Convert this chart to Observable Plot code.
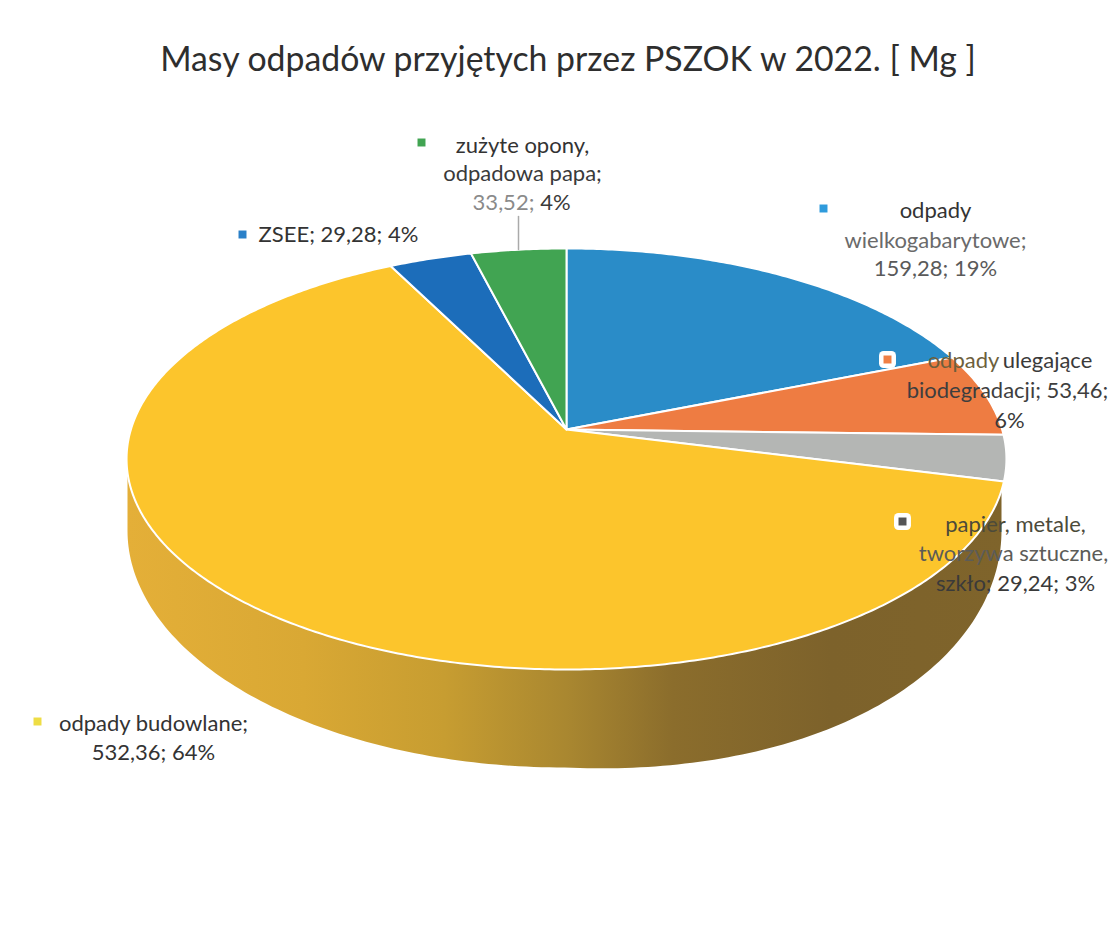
<!DOCTYPE html>
<html lang="pl">
<head>
<meta charset="utf-8">
<script src="https://cdn.jsdelivr.net/npm/d3@7"></script>
<script src="https://cdn.jsdelivr.net/npm/@observablehq/plot@0.6"></script>
<style>
  html, body { margin: 0; padding: 0; background: #fff; }
  h1 { margin: 0; height: 92px; text-align: center; width: 1136px;
       font: 400 33.8px Lato, sans-serif; line-height: 116px; color: #2e2e2e; white-space: nowrap; }
  svg { display: block; }
</style>
</head>
<body>
<h1 id="chartTitleEl"></h1>
<div id="chartEl"></div>
<script>
// ---- data ----
const chartTitle = "Masy odpadów przyjętych przez PSZOK w 2022. [ Mg ]";
const sliceNames = ["odpady wielkogabarytowe", "odpady ulegające biodegradacji",
  "papier, metale, tworzywa sztuczne, szkło", "odpady budowlane", "ZSEE",
  "zużyte opony, odpadowa papa"];
const sliceValues = [159.28, 53.46, 29.24, 532.36, 29.28, 33.52];

const labelText = [
  "zużyte opony,", "odpadowa papa;", "33,52;", "4%",
  "ZSEE; 29,28; 4%",
  "odpady", "wielkogabarytowe;", "159,28; 19%",
  "odpady", "ulegające", "biodegradacji; 53,46;", "6%",
  "papier, metale,", "tworzywa sztuczne,", "szkło; 29,24; 3%",
  "odpady budowlane;", "532,36; 64%"
];

// ---- layout and style ----
const W = 1109, H = 942, titleH = 92;
const sliceColors = ["#2a8cc8", "#ee7c42", "#b4b6b4", "#fcc52c", "#1c6dba", "#41a452"];
const labelX = [522, 522, 503, 555, 338, 935, 935, 935, 963, 1047, 1007, 1009, 1015, 1013, 1015, 153, 153];
const labelY = [145, 173, 202, 202, 234, 210, 240, 268, 360, 360, 390, 420, 524, 553, 583, 723, 752];
const labelFill = ["#333", "#3a3a3a", "#8a8a8a", "#3a3a3a", "#333", "#333", "#6a6a6a", "#5a5a5a",
  "#6d5f3c", "#3a3a3a", "#3e3e3e", "#3a3a3a", "#4c4a3a", "#5c5c58", "#3a3a3a", "#333", "#333"];
const markerIndex = [5, 4, 1, 2, 0, 3];
const markerColors = ["#41a452", "#2a80c8", "#2f9bdc", "#ef7f45", "#555555", "#eedd44"];
const markerX = [421, 242, 823, 887, 902, 37];
const markerY = [142, 234, 208, 359, 521, 721];
const markerHalo = [false, false, false, true, true, false];

// Top disc: perspective view of a unit circle, angle clockwise from 12 o'clock
const disc = {cx: 566, cy: 429, R: 435.6, S: 206.4, p: 0.14};
const rim = (a) => {
  const w = 1 + disc.p * Math.cos(a);
  return [disc.cx + disc.R * Math.sin(a) / w, disc.cy - disc.S * Math.cos(a) / w];
};
// Bottom rim of the cylinder wall (the right front bulges slightly in the picture)
const base = {cx: 564, cy: 530, rx: 437, ry: 237, bulge: 10};

const arcs = d3.pie().sort(null).startAngle(0).endAngle(2 * Math.PI)(sliceValues);
const slicePoints = arcs.flatMap((arc, i) => {
  const n = Math.max(2, Math.ceil((arc.endAngle - arc.startAngle) / 0.01));
  const pts = [{slice: sliceNames[i], x: disc.cx, y: disc.cy}];
  for (let k = 0; k <= n; ++k) {
    const [x, y] = rim(arc.startAngle + (arc.endAngle - arc.startAngle) * k / n);
    pts.push({slice: sliceNames[i], x, y});
  }
  pts.push({slice: sliceNames[i], x: disc.cx, y: disc.cy});
  return pts;
});

const wallPoints = d3.range(0, 181).map((deg) => {
  const t = deg * Math.PI / 180;
  const extra = deg < 90 ? base.bulge * Math.sin(2 * t) : 0;
  return {x: base.cx + base.rx * Math.cos(t), y: base.cy + base.ry * Math.sin(t) + extra};
});
wallPoints.push({x: base.cx - base.rx, y: 458}, {x: base.cx + base.rx, y: 458});

const wallStops = [[0, "#e4af38"], [0.2, "#d9a834"], [0.36, "#c79d31"], [0.5, "#a98730"],
  [0.62, "#8b6d2c"], [0.8, "#7d622b"], [1, "#7f642b"]];
const wallGradient = () => {
  const defs = d3.create("svg:defs");
  const g = defs.append("linearGradient").attr("id", "wallGrad")
    .attr("gradientUnits", "userSpaceOnUse")
    .attr("x1", 127).attr("x2", 1006).attr("y1", 0).attr("y2", 0);
  wallStops.forEach(([o, c]) => g.append("stop").attr("offset", o).attr("stop-color", c));
  return defs.node();
};

const labelRows = labelText.map((text, i) => ({text, x: labelX[i], y: labelY[i], fill: labelFill[i]}));
const markerRows = markerIndex.map((s, i) => ({
  slice: sliceNames[s], x: markerX[i], y: markerY[i], color: markerColors[i], halo: markerHalo[i]
}));
const leader = [{x: 518, y: 216}, {x: 518, y: 249}];

document.getElementById("chartTitleEl").textContent = chartTitle;

const chartNode = Plot.plot({
  width: W,
  height: H - titleH,
  margin: 0,
  x: {domain: [0, W], range: [0, W], axis: null},
  y: {domain: [titleH, H], range: [0, H - titleH], axis: null},
  color: {domain: sliceNames, range: sliceColors},
  style: {background: "#fff", overflow: "visible"},
  marks: [
    wallGradient,
    Plot.line(wallPoints, {x: "x", y: "y", fill: "url(#wallGrad)", stroke: "none"}),
    Plot.line(slicePoints, {x: "x", y: "y", z: "slice", fill: "slice", stroke: "#fff",
      strokeWidth: 2, strokeLinejoin: "round"}),
    Plot.line(leader, {x: "x", y: "y", stroke: "#aaa", strokeWidth: 1.5}),
    Plot.dot(markerRows.filter((d) => d.halo), {x: "x", y: "y", symbol: "square", r: 4.5,
      fill: "#fff", stroke: "#fff", strokeWidth: 9, strokeLinejoin: "round"}),
    Plot.dot(markerRows, {x: "x", y: "y", symbol: "square", r: 4.5, fill: (d) => d.color, stroke: "none"}),
    Plot.text(labelRows, {x: "x", y: "y", text: "text", fill: "fill", fontSize: 22,
      fontFamily: "Lato, sans-serif", lineAnchor: "middle", textAnchor: "middle"})
  ]
});
document.getElementById("chartEl").append(chartNode);
</script>
</body>
</html>
